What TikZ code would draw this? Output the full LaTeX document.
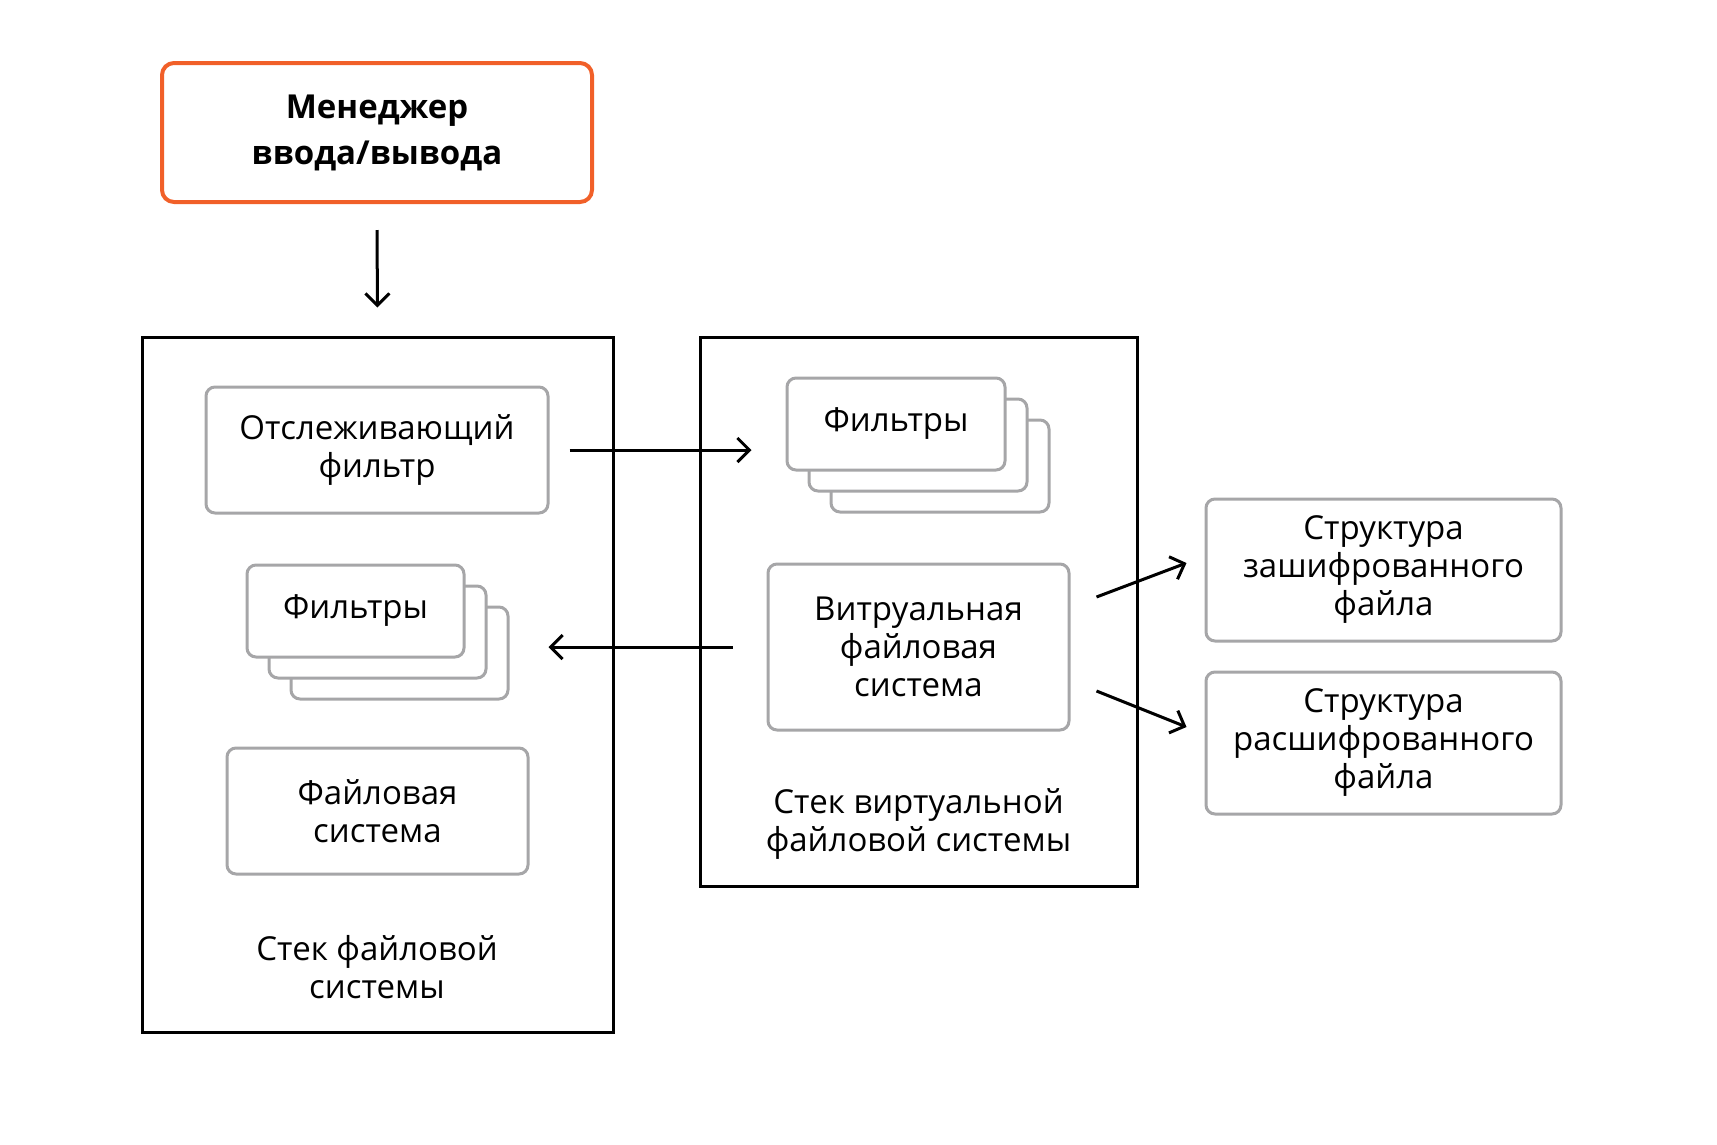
\documentclass[tikz,border=0pt]{standalone}
\usepackage{fontspec}
\setmainfont{Open Sans}
\usepackage{tikz}
\usetikzlibrary{arrows.meta}
\usetikzlibrary{positioning}

\definecolor{ioorange}{RGB}{241,96,41}
\definecolor{boxgray}{RGB}{166,166,168}

\tikzset{
  stack/.style={draw=black,line width=3pt,inner sep=0pt},
  unit/.style={draw=boxgray,line width=3pt,rounded corners=9pt,fill=white,align=center,inner sep=0pt},
  caption/.style={align=center,inner sep=0pt},
  arr/.style={line width=3pt,-{Straight Barb[length=12pt,width=24pt]}}
}

\begin{document}
\begin{tikzpicture}[x=1pt,y=-1pt,font=\fontsize{33}{38}\selectfont]
  % Constants
  \pgfmathsetmacro\dx{22}
  \pgfmathsetmacro\dy{21}
  % Boundary
  \path[use as bounding box] (0,0) rectangle (1717,1144);
  % I/O manager
  \node[draw=ioorange,line width=4pt,rounded corners=12pt,minimum width=430,minimum height=139,align=center,inner sep=0pt,
    font=\fontsize{33}{46}\selectfont\bfseries]
    (io) at (377,132.5) {Менеджер\\ввода/вывода};
  % Stacks
  \node[stack,minimum width=471,minimum height=695] (fsstack) at (377.5,684.5) {};
  \node[stack,minimum width=437,minimum height=549] (vfsstack) at (918.5,611.5) {};
  \node[caption] (fslabel) at (377,967) {Стек файловой\\системы};
  \node[caption] (vfslabel) at (918.5,824) {Стек виртуальной\\файловой системы};
  % File system stack
  \node[unit,minimum width=342,minimum height=126] (trace) at (377,450) {Отслеживающий\\фильтр};
  \foreach \k in {2,1}
    \node[unit,minimum width=217,minimum height=92] (filtersL\k) at ({355.5+\k*\dx},{611+\k*\dy}) {};
  \node[unit,minimum width=217,minimum height=92] (filtersL0) at (355.5,611) {Фильтры};
  \node[unit,minimum width=301,minimum height=126] (fsys) at (377.5,811) {Файловая\\система};
  % Virtual file system stack
  \foreach \k in {2,1}
    \node[unit,minimum width=218,minimum height=92] (filtersR\k) at ({896+\k*\dx},{424+\k*\dy}) {};
  \node[unit,minimum width=218,minimum height=92] (filtersR0) at (896,424) {Фильтры};
  \node[unit,minimum width=301,minimum height=166] (vfs) at (918.5,647) {Витруальная\\файловая\\система};
  % File structures
  \node[unit,minimum width=355,minimum height=142] (enc) at (1383.5,570) {Структура\\зашифрованного\\файла};
  \node[unit,minimum width=355,minimum height=142] (dec) at (1383.5,743) {Структура\\расшифрованного\\файла};
  % Connectors
  \draw[arr,shorten <=26pt,shorten >=28pt] (io.south) -- (fsstack.north);
  \draw[arr,shorten <=20pt,shorten >=34pt] (trace.east) -- (trace.east -| filtersR0.west);
  \draw[arr,shorten <=34pt,shorten >=39pt] (vfs.west) -- (vfs.west -| filtersL2.east);
  \draw[arr] ([xshift=26pt,yshift=50pt]vfs.east) -- ([xshift=-18pt,yshift=7pt]enc.west);
  \draw[arr] ([xshift=26pt,yshift=-44pt]vfs.east) -- ([xshift=-18pt,yshift=16pt]dec.west);
\end{tikzpicture}
\end{document}
